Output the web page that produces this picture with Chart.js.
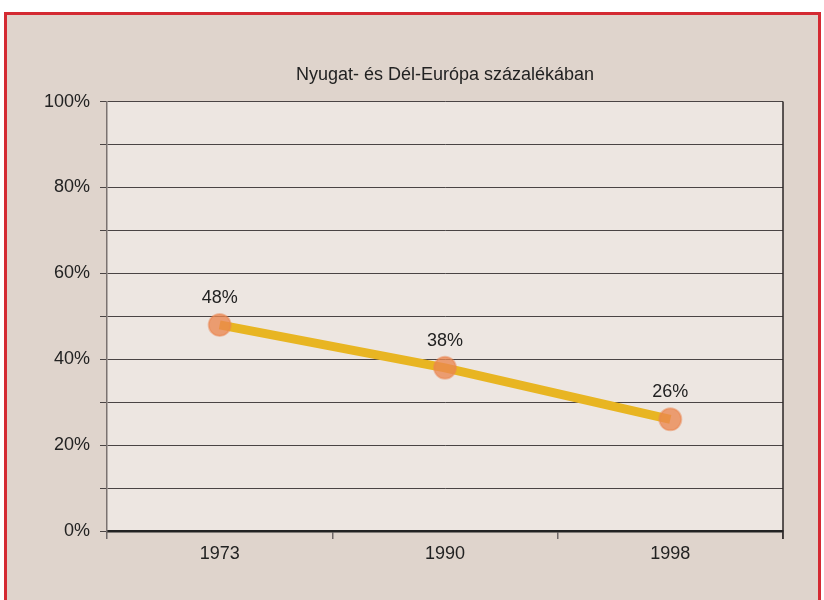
<!DOCTYPE html>
<html lang="hu">
<head>
  <meta charset="UTF-8">
  <title>Nyugat- és Dél-Európa százalékában</title>
  <script src="https://cdn.jsdelivr.net/npm/chart.js@4.4.1/dist/chart.umd.min.js"></script>
  <style>
    body {
      margin: 0;
      background: #fff;
      font-family: 'Liberation Sans', Arial, sans-serif;
    }
    .frame {
      position: absolute;
      left: 4px;
      top: 12px;
      width: 811px;
      height: 588px;
      border: 3px solid #d42a32;
      border-bottom: none;
      background: #dfd4cc;
    }
    canvas { display: block; }
  </style>
</head>
<body>
  <div class="frame">
    <canvas id="chart" width="811" height="588"></canvas>
  </div>
  <script>
    // adatok
    const years = ['1973', '1990', '1998'];
    const shares = [48, 38, 26];
    const chartTitle = 'Nyugat- és Dél-Európa százalékában';

    const FONT = "'Liberation Sans', Arial, sans-serif";

    // háttér a rajzterületnek + jobb oldali keret
    const plotBg = {
      id: 'plotBg',
      beforeDraw(chart) {
        const { ctx, chartArea: a } = chart;
        ctx.save();
        ctx.fillStyle = '#ede6e1';
        ctx.fillRect(a.left, a.top, a.right - a.left, a.bottom - a.top);
        ctx.restore();
      },
      afterDatasetsDraw(chart) {
        const { ctx, chartArea: a } = chart;
        ctx.save();
        ctx.strokeStyle = '#2a2525';
        ctx.lineWidth = 1.5;
        ctx.beginPath();
        ctx.moveTo(a.right, a.top);
        ctx.lineTo(a.right, a.bottom + 8);
        ctx.stroke();
        ctx.restore();
      }
    };

    // százalék feliratok a pontok fölött
    const pointLabels = {
      id: 'pointLabels',
      afterDatasetsDraw(chart) {
        const { ctx } = chart;
        const meta = chart.getDatasetMeta(0);
        ctx.save();
        ctx.fillStyle = '#222';
        ctx.font = '18px ' + FONT;
        ctx.textAlign = 'center';
        ctx.textBaseline = 'middle';
        meta.data.forEach((pt, i) => {
          ctx.fillText(shares[i] + '%', pt.x, pt.y - 27);
        });
        ctx.restore();
      }
    };

    new Chart(document.getElementById('chart'), {
      type: 'line',
      data: {
        labels: years,
        datasets: [{
          data: shares,
          borderColor: '#e8b522',
          borderWidth: 9,
          pointRadius: 11,
          pointHoverRadius: 11,
          pointBackgroundColor: 'rgba(234, 134, 80, 0.78)',
          pointBorderColor: 'rgba(234, 134, 80, 0.45)',
          pointBorderWidth: 2,
          tension: 0
        }]
      },
      options: {
        responsive: false,
        animation: false,
        layout: { padding: { left: 0, right: 35, top: 0, bottom: 0 } },
        plugins: {
          legend: { display: false },
          tooltip: { enabled: false },
          title: {
            display: true,
            text: chartTitle,
            fullSize: false,
            color: '#222',
            font: { family: FONT, size: 18, weight: 'normal', lineHeight: 1.2 },
            padding: { top: 49, bottom: 16 }
          }
        },
        scales: {
          x: {
            offset: true,
            afterFit(scale) { scale.height = 72; },
            grid: {
              offset: true,
              drawOnChartArea: false,
              drawTicks: true,
              tickLength: 8,
              color: '#6f6868',
              lineWidth: 1.5
            },
            border: { color: '#222', width: 2.5 },
            ticks: {
              color: '#222',
              padding: 4,
              font: { family: FONT, size: 18 }
            }
          },
          y: {
            min: 0,
            max: 100,
            afterFit(scale) { scale.width = 100; },
            grid: {
              color: '#4a4444',
              lineWidth: 1,
              tickLength: 7
            },
            border: { color: '#7a7270', width: 1.5 },
            ticks: {
              stepSize: 10,
              color: '#222',
              padding: 10,
              font: { family: FONT, size: 18 },
              callback: v => (v % 20 === 0 ? v + '%' : '')
            }
          }
        }
      },
      plugins: [plotBg, pointLabels]
    });
  </script>
</body>
</html>
